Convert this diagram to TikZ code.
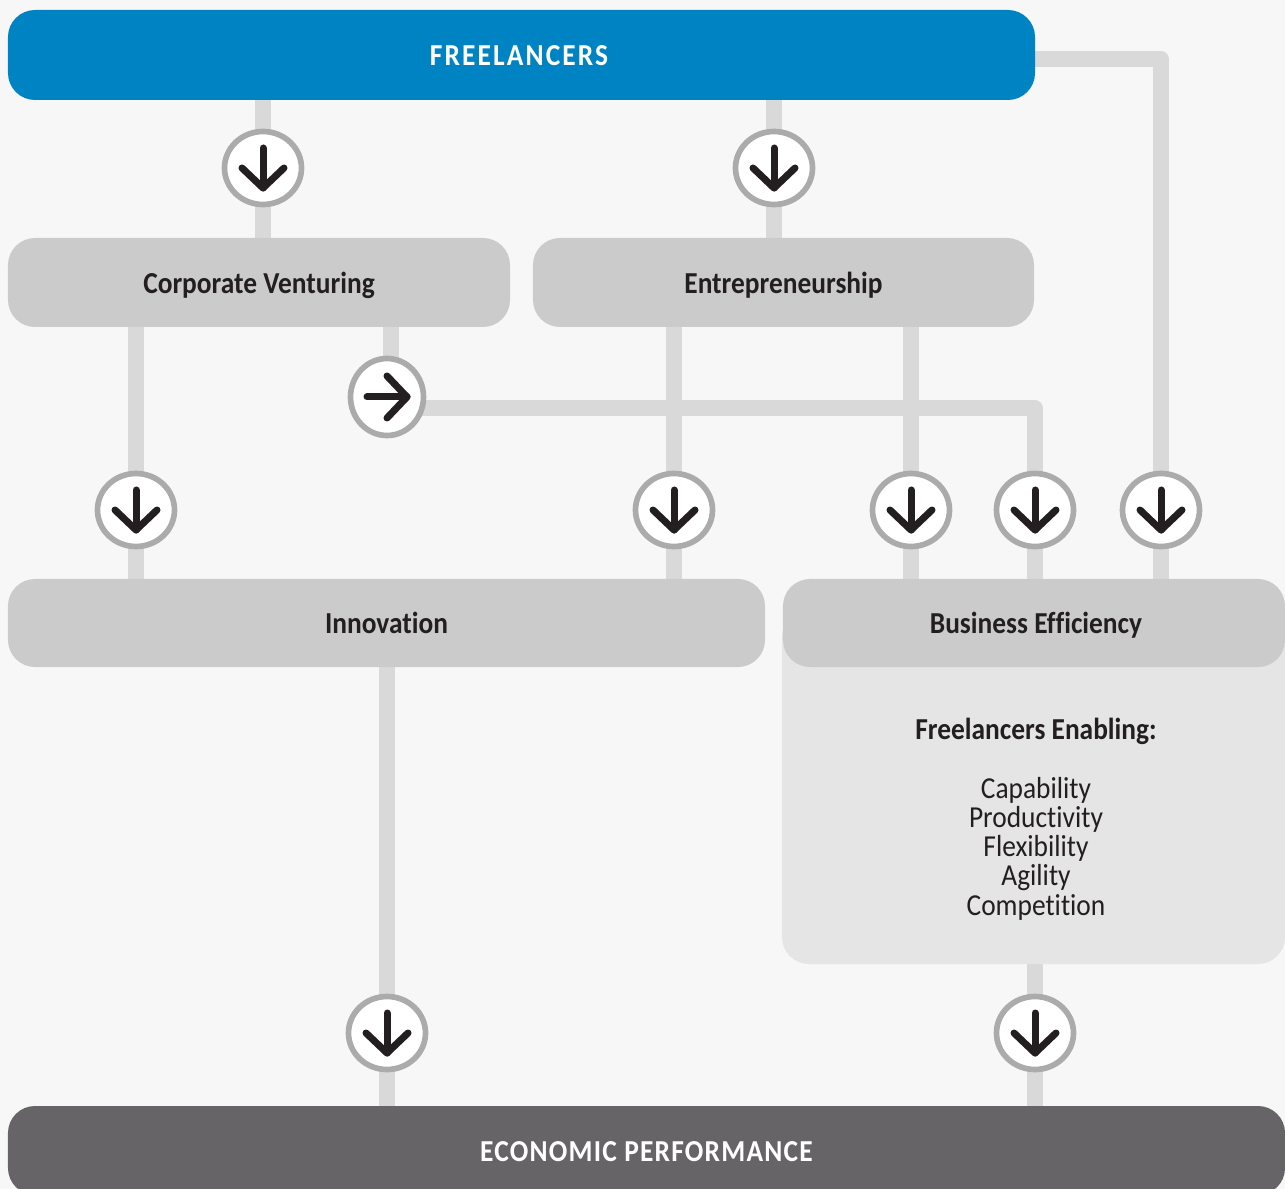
\documentclass[tikz,border=0pt]{standalone}
\usepackage{fontspec}
\setmainfont[FakeStretch=0.9,Ligatures=NoCommon]{Carlito}
\usetikzlibrary{backgrounds,shapes.geometric}
\definecolor{pagebg}{HTML}{F7F7F7}
\definecolor{bluebox}{HTML}{0083C3}
\definecolor{greybox}{HTML}{CBCBCB}
\definecolor{panelbox}{HTML}{E5E5E5}
\definecolor{darkbox}{HTML}{666467}
\definecolor{linkcol}{HTML}{D9D9D9}
\definecolor{ringcol}{HTML}{ABABAB}
\definecolor{inkcol}{HTML}{231F20}
\tikzset{
	boxnode/.style={rounded corners=0.81cm,minimum height=2.67cm,inner sep=0pt,text height=0.65cm,text depth=0pt,font=\fontsize{26}{26}\selectfont\bfseries,text=inkcol},
	greynode/.style={boxnode,fill=greybox},
	link/.style={linkcol,line width=0.46cm,line cap=butt,line join=round},
	roundel/.style={ellipse,draw=ringcol,fill=white,line width=0.17cm,inner sep=0pt,minimum width=2.31cm,minimum height=2.19cm},
	icon/.style={inkcol,line width=0.21cm},
	listtext/.style={font=\fontsize{26}{24.9}\selectfont,text=inkcol,inner sep=0pt,align=center}
}
\begin{document}
\begin{tikzpicture}[x=0.03cm,y=-0.03cm,line join=round,line cap=round]
	\useasboundingbox (0,0) rectangle (1285,1189);
	\clip (0,0) rectangle (1285,1189);
	\node[boxnode,fill=bluebox,minimum width=30.81cm,text=white,minimum height=2.7cm] (freelancers) at (521.5,55) {\addfontfeature{LetterSpace=7}\hspace*{-0.15cm}FREELANCERS};
	\node[greynode,minimum width=15.06cm] (venturing) at (259,282.5) {Corporate Venturing};
	\node[greynode,minimum width=15.03cm] (entrepreneurship) at (783.5,282.5) {Entrepreneurship};
	\node[greynode,minimum width=22.71cm,minimum height=2.64cm] (innovation) at (386.5,623) {Innovation};
	\node[boxnode,fill=panelbox,minimum width=15.09cm,minimum height=10.62cm] (panel) at (1033.5,787) {};
	\node[greynode,minimum width=15.06cm,minimum height=2.64cm] (efficiency) at (1034,623) {\hspace{0.12cm}Business Efficiency};
	\node[boxnode,fill=darkbox,minimum width=38.31cm,text=white] (economy) at (646.5,1150.5) {\addfontfeature{LetterSpace=4}ECONOMIC PERFORMANCE};
	\node[listtext,font=\fontsize{26}{26}\selectfont\bfseries] (enabling) at (1036,731) {Freelancers Enabling:};
	\node[listtext,anchor=north] (abilities) at (1036,777) {Capability\\Productivity\\Flexibility\\Agility\\Competition};
	\foreach \n/\x/\y in {a/263/168,b/774/168,d/136/510,e/674/510,f/911/510,g/1035/510,h/1161/510,i/387/1033,j/1035/1033}{
		\node[roundel] (c\n) at (\x,\y) {};
		\draw[icon] ([shift={(0,-20)}]c\n.center)--([shift={(0,20)}]c\n.center);
		\draw[icon] ([shift={(-21,0)}]c\n.center)--([shift={(0,20)}]c\n.center)--([shift={(21,0)}]c\n.center);
	}
	\node[roundel,minimum width=2.19cm,minimum height=2.31cm] (cc) at (387,397) {};
	\draw[icon] ([shift={(-20,0)}]cc.center)--([shift={(20,0)}]cc.center);
	\draw[icon] ([shift={(0,-21)}]cc.center)--([shift={(20,0)}]cc.center)--([shift={(0,21)}]cc.center);
	\coordinate (outright) at (1030,59);
	\coordinate (ventout) at (391,327);
	\coordinate (ccout) at (387,408);
	\begin{pgfonlayer}{background}
		\fill[pagebg] (0,0) rectangle (1285,1189);
		\draw[link] (freelancers.south -| ca) -- (venturing.north -| ca);
		\draw[link] (freelancers.south -| cb) -- (entrepreneurship.north -| cb);
		\draw[link] (venturing.south -| cd) -- (innovation.north -| cd);
		\draw[link] (entrepreneurship.south -| ce) -- (innovation.north -| ce);
		\draw[link] (entrepreneurship.south -| cf) -- (efficiency.north -| cf);
		\draw[link] (ventout) -- (ventout |- cc);
		\draw[link] (ccout) -| (efficiency.north -| cg);
		\draw[link] (outright) -| (efficiency.north -| ch);
		\draw[link] (innovation.south -| ci) -- (economy.north -| ci);
		\draw[link] (panel.south -| cj) -- (economy.north -| cj);
	\end{pgfonlayer}
\end{tikzpicture}
\end{document}
